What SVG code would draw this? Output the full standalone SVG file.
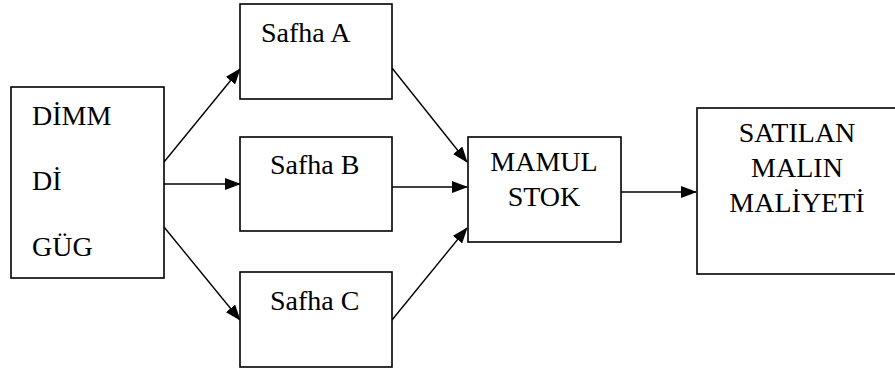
<svg xmlns="http://www.w3.org/2000/svg" width="895" height="370" viewBox="0 0 895 370">
  <defs>
    <marker id="arrow" markerWidth="16" markerHeight="12" refX="15" refY="6" orient="auto" markerUnits="userSpaceOnUse">
      <path d="M0,0 L16,6 L0,12 Z" fill="#000"/>
    </marker>
  </defs>
  <style>
    .box { fill: #fff; stroke: #000; stroke-width: 1.6; }
    .lbl { font-family: "Liberation Serif", "Times New Roman", "DejaVu Serif", serif; font-size: 28px; fill: #000; }
    .mid { text-anchor: middle; }
    .edge { stroke: #000; stroke-width: 1.4; fill: none; marker-end: url(#arrow); }
  </style>
  <rect width="895" height="370" fill="#fff"/>

  <g id="connectors">
    <line class="edge" x1="164" y1="162" x2="240" y2="69"/>
    <line class="edge" x1="164" y1="184" x2="240" y2="184"/>
    <line class="edge" x1="164" y1="227" x2="240" y2="320"/>
    <line class="edge" x1="392" y1="68" x2="467" y2="162"/>
    <line class="edge" x1="392" y1="187" x2="467" y2="187"/>
    <line class="edge" x1="392" y1="320" x2="467" y2="228"/>
    <line class="edge" x1="621" y1="192" x2="696" y2="192"/>
  </g>

  <g id="dimm">
    <rect class="box" x="11" y="87" width="153" height="191"/>
    <text class="lbl" x="32" y="125">DİMM</text>
    <text class="lbl" x="32" y="190">Dİ</text>
    <text class="lbl" x="32" y="256">GÜG</text>
  </g>

  <g id="safha-a">
    <rect class="box" x="240" y="4" width="152" height="95"/>
    <text class="lbl" x="261" y="42">Safha A</text>
  </g>

  <g id="safha-b">
    <rect class="box" x="240" y="137" width="152" height="94"/>
    <text class="lbl" x="270" y="174">Safha B</text>
  </g>

  <g id="safha-c">
    <rect class="box" x="240" y="272" width="152" height="95"/>
    <text class="lbl" x="270" y="310">Safha C</text>
  </g>

  <g id="mamul-stok">
    <rect class="box" x="468" y="137" width="153" height="105"/>
    <text class="lbl mid" x="544" y="171">MAMUL</text>
    <text class="lbl mid" x="544" y="206">STOK</text>
  </g>

  <g id="satilan">
    <rect class="box" x="697" y="108" width="200" height="166"/>
    <text class="lbl mid" x="797" y="142">SATILAN</text>
    <text class="lbl mid" x="797" y="177">MALIN</text>
    <text class="lbl mid" x="797" y="212">MALİYETİ</text>
  </g>
</svg>
